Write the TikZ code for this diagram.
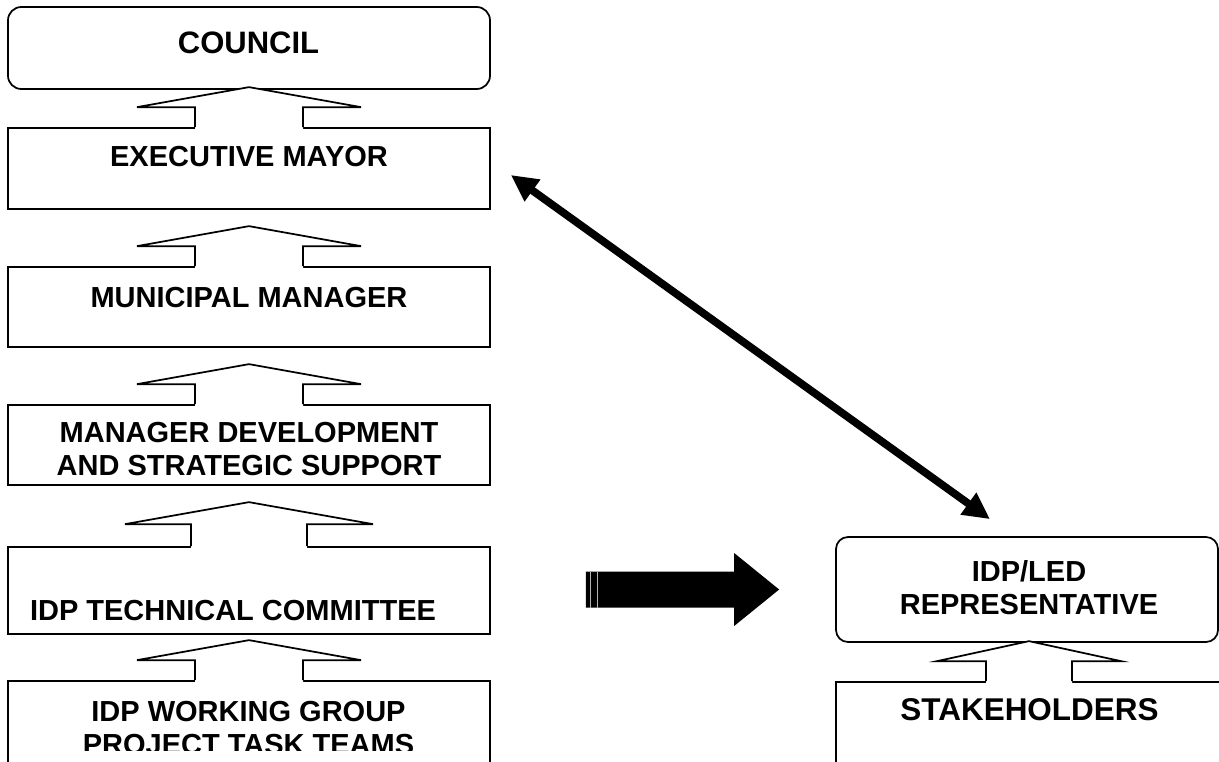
\documentclass[tikz,border=0pt]{standalone}
\usepackage{fontspec}
\setmainfont{Liberation Sans}
\usepackage{tikz}
\usetikzlibrary{calc,arrows.meta}
\tikzset{
  box/.style={draw=black, line width=1.3pt, inner sep=0pt},
  rbox/.style={box, rounded corners=10pt},
  lab/.style={font=\bfseries\fontsize{21.75pt}{24.75pt}\selectfont, align=center, inner sep=0pt},
  labbig/.style={lab, font=\bfseries\fontsize{23.25pt}{24.75pt}\selectfont},
  hollow/.style={draw=black, line width=1.3pt, line join=miter},
  dbl/.style={draw=black, line width=5.8pt,
    {Triangle[length=20pt,width=19pt]}-{Triangle[length=20pt,width=19pt]}},
}

\begin{document}
\begin{tikzpicture}[x=0.75pt,y=-0.75pt]
  \def\pxu{0.75pt}
  % hollow up arrow sitting on the top of a box
  \def\uparr#1#2#3#4{%
    \fill[white] ($(#1.north)+(-#3,2)$) -- ($(#1.north)+(-#3,-#4/2)$)
      -- ($(#1.north)+(-#2,-#4/2)$) -- ($(#1.north)+(0,-#4)$)
      -- ($(#1.north)+(#2,-#4/2)$) -- ($(#1.north)+(#3,-#4/2)$)
      -- ($(#1.north)+(#3,2)$) -- cycle;
    \draw[hollow] ($(#1.north)+(-#3,0)$) -- ($(#1.north)+(-#3,-#4/2)$)
      -- ($(#1.north)+(-#2,-#4/2)$) -- ($(#1.north)+(0,-#4)$)
      -- ($(#1.north)+(#2,-#4/2)$) -- ($(#1.north)+(#3,-#4/2)$)
      -- ($(#1.north)+(#3,0)$);
  }
  \useasboundingbox (0,0) rectangle (1219,761);
  \clip (0,0) rectangle (1219,761);

  % left column
  \node[rbox, minimum width=482*\pxu, minimum height=82*\pxu] (council) at (249,48) {};
  \node[box, minimum width=482*\pxu, minimum height=81*\pxu] (mayor) at (249,168.5) {};
  \node[box, minimum width=482*\pxu, minimum height=80*\pxu] (mm) at (249,307) {};
  \node[box, minimum width=482*\pxu, minimum height=80*\pxu] (mdss) at (249,445) {};
  \node[box, minimum width=482*\pxu, minimum height=87*\pxu] (tech) at (249,590.5) {};
  \node[box, minimum width=482*\pxu, minimum height=119*\pxu] (wg) at (249,740.5) {};

  \node[labbig] (councilt) at (248.5,42.5) {COUNCIL};
  \node[lab] (mayort) at (249,157) {EXECUTIVE MAYOR};
  \node[lab] (mmt) at (249,298) {MUNICIPAL MANAGER};
  \node[lab] (mdsst) at (249,449) {MANAGER DEVELOPMENT\\AND STRATEGIC SUPPORT};
  \node[lab] (techt) at (233,611) {IDP TECHNICAL COMMITTEE};
  \begin{scope}
    \clip (0,0) rectangle (1219,750);
    \node[lab] (wgt) at (248.5,728) {IDP WORKING GROUP\\PROJECT TASK TEAMS};
  \end{scope}

  % right column
  \node[rbox, rounded corners=9pt, minimum width=382*\pxu, minimum height=105*\pxu] (idp) at (1027,589.5) {};
  \node[box, minimum width=386*\pxu, minimum height=118*\pxu] (stake) at (1029,741) {};
  \node[lab] (idpt) at (1029,587.5) {IDP/LED\\REPRESENTATIVE};
  \node[lab, font=\bfseries\fontsize{23.6pt}{24.75pt}\selectfont] (staket) at (1029.5,710) {STAKEHOLDERS};

  % reporting arrows
  \uparr{mayor}{112}{54}{40}
  \uparr{mm}{112}{54}{40}
  \uparr{mdss}{112}{54}{40}
  \uparr{tech}{124}{58}{44}
  \uparr{wg}{112}{54}{40}
  \uparr{stake}{92}{43}{40}

  % mayor <-> representative
  \draw[dbl] ($(mayor.east)+(20,6.5)$) -- ($(idp.north)+(-37,-17)$);

  % big block arrow
  \coordinate (bs) at ($(tech.east)+(95,-1)$);
  \coordinate (bt) at ($(idp.west)+(-56,0)$);
  \fill ($(bs)+(0,-18)$) -- ($(bt)+(-45,-18)$) -- ($(bt)+(-45,-36.5)$) -- (bt)
    -- ($(bt)+(-45,36.5)$) -- ($(bt)+(-45,18)$) -- ($(bs)+(0,18)$) -- cycle;
  \draw[gray!60, line width=0.3pt] ($(bs)+(4,-18)$) -- ($(bs)+(4,18)$);
  \draw[gray!60, line width=0.3pt] ($(bs)+(11,-18)$) -- ($(bs)+(11,18)$);
\end{tikzpicture}
\end{document}
